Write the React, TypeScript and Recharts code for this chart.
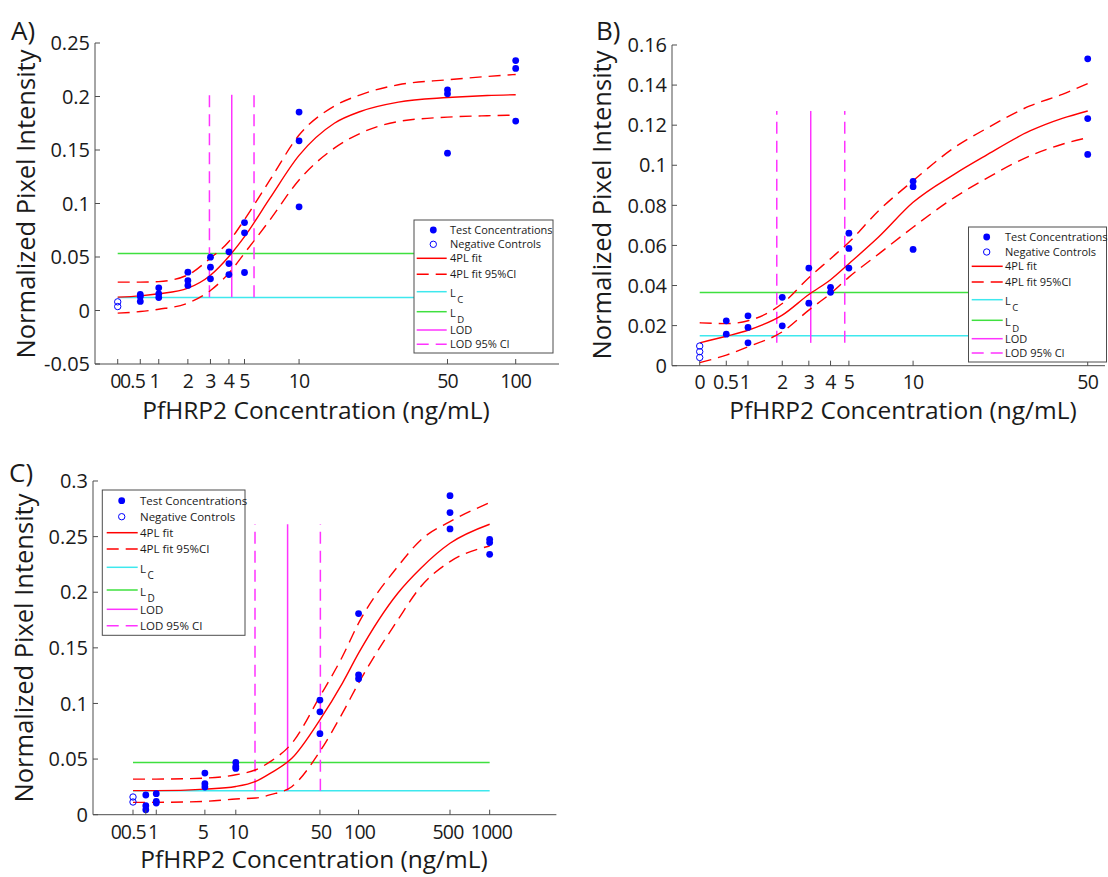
import React from 'react';
import { ComposedChart, Line, Scatter, XAxis, YAxis, ReferenceLine } from 'recharts';

// axis transform used by the original figure: log10(concentration + 2)
const tx = (x: number) => Math.log10(x + 2);

// ---------------- Panel A ----------------
const xTicksA = [0, 0.5, 1, 2, 3, 4, 5, 10, 50, 100];
const xTickLabelsA = ['0', '0.5', '1', '2', '3', '4', '5', '10', '50', '100'];
const yTicksA = [-0.05, 0, 0.05, 0.1, 0.15, 0.2, 0.25];
const yTickLabelsA = ['-0.05', '0', '0.05', '0.1', '0.15', '0.2', '0.25'];
const concA = [0.5, 1, 2, 3, 4, 5, 10, 50, 100];
const testA = [
  [0.015, 0.013, 0.0085],
  [0.0212, 0.0156, 0.0121],
  [0.0358, 0.028, 0.0234],
  [0.0498, 0.0405, 0.0296],
  [0.0548, 0.0439, 0.0336],
  [0.0822, 0.0726, 0.0355],
  [0.1854, 0.1586, 0.0969],
  [0.2062, 0.2025, 0.147],
  [0.2336, 0.2262, 0.177],
];
const negA = [0.0081, 0.0037];
const fitXA = [0, 0.5, 1, 2, 3, 4, 5, 7, 10, 15, 20, 30, 50, 75, 100];
const fitA = [0.0125, 0.0137, 0.0156, 0.0209, 0.033, 0.0505, 0.069, 0.105, 0.145, 0.175, 0.186, 0.1947, 0.199, 0.201, 0.2016];
const ciHiA = [0.0265, 0.0265, 0.027, 0.0333, 0.049, 0.0645, 0.085, 0.122, 0.164, 0.191, 0.2016, 0.211, 0.2156, 0.2187, 0.2206];
const ciLoA = [-0.0025, -0.001, 0.0012, 0.0069, 0.0187, 0.0349, 0.0536, 0.0847, 0.122, 0.1517, 0.1657, 0.1766, 0.1807, 0.182, 0.1826];
const levelsA = [0.0121, 0.0533]; // L_C, L_D
const lodA = [2.95, 4.17, 5.69]; // CI low, LOD, CI high

// ---------------- Panel B ----------------
const xTicksB = [0, 0.5, 1, 2, 3, 4, 5, 10, 50];
const xTickLabelsB = ['0', '0.5', '1', '2', '3', '4', '5', '10', '50'];
const yTicksB = [0, 0.02, 0.04, 0.06, 0.08, 0.1, 0.12, 0.14, 0.16];
const yTickLabelsB = ['0', '0.02', '0.04', '0.06', '0.08', '0.1', '0.12', '0.14', '0.16'];
const concB = [0.5, 1, 2, 3, 4, 5, 10, 50];
const testB = [
  [0.0224, 0.0157],
  [0.0249, 0.0191, 0.0114],
  [0.0341, 0.0199],
  [0.0487, 0.0312],
  [0.0391, 0.0366],
  [0.0661, 0.0585, 0.0487],
  [0.092, 0.0893, 0.058],
  [0.1531, 0.1233, 0.1054],
];
const negB = [0.0098, 0.007, 0.0041];
const fitXB = [0, 0.5, 1, 2, 3, 4, 5, 7, 10, 15, 20, 30, 40, 50];
const fitB = [0.0114, 0.0147, 0.0177, 0.0252, 0.0355, 0.0429, 0.0509, 0.0643, 0.0815, 0.0956, 0.1047, 0.1171, 0.1234, 0.1271];
const ciHiB = [0.0214, 0.021, 0.0224, 0.031, 0.0439, 0.0534, 0.0616, 0.0774, 0.0923, 0.1089, 0.118, 0.1296, 0.1354, 0.1408];
const ciLoB = [0.0015, 0.0053, 0.0094, 0.0169, 0.0277, 0.036, 0.0442, 0.0558, 0.0691, 0.084, 0.0931, 0.1047, 0.1105, 0.1138];
const levelsB = [0.0149, 0.0365];
const lodB = [1.82, 3.08, 4.76];

// ---------------- Panel C ----------------
const xTicksC = [0, 0.5, 1, 5, 10, 50, 100, 500, 1000];
const xTickLabelsC = ['0', '0.5', '1', '5', '10', '50', '100', '500', '1000'];
const yTicksC = [0, 0.05, 0.1, 0.15, 0.2, 0.25, 0.3];
const yTickLabelsC = ['0', '0.05', '0.1', '0.15', '0.2', '0.25', '0.3'];
const concC = [0.5, 1, 5, 10, 50, 100, 500, 1000];
const testC = [
  [0.0177, 0.0081, 0.0045],
  [0.0189, 0.012, 0.0105],
  [0.0374, 0.0278, 0.0249],
  [0.047, 0.0434, 0.0416],
  [0.103, 0.0925, 0.0728],
  [0.1808, 0.1257, 0.1222],
  [0.2868, 0.2716, 0.2569],
  [0.2476, 0.2446, 0.2341],
];
const negC = [0.0159, 0.0114];
const fitXC = [0, 1, 5, 10, 15, 20, 30, 50, 75, 100, 200, 300, 500, 1000];
const fitC = [0.0216, 0.0216, 0.023, 0.0254, 0.03, 0.0374, 0.0509, 0.0853, 0.1183, 0.1452, 0.1991, 0.2216, 0.244, 0.2611];
const ciHiC = [0.032, 0.032, 0.0329, 0.0359, 0.0404, 0.0479, 0.0644, 0.1063, 0.1422, 0.1722, 0.2231, 0.247, 0.2635, 0.2805];
const ciLoC = [0.0111, 0.0111, 0.012, 0.0141, 0.015, 0.018, 0.0254, 0.0569, 0.0913, 0.1183, 0.1751, 0.2051, 0.2275, 0.2416];
const levelsC = [0.0216, 0.047];
const lodC = [14.77, 27.6, 50.4];

const legendLabels = ['Test Concentrations', 'Negative Controls', '4PL fit', '4PL fit 95%CI', 'L', 'L', 'LOD', 'LOD 95% CI'];
const legendSubs = ['C', 'D'];

// ---------------- styling ----------------
const FONT = '"Open Sans", "Noto Sans", sans-serif';
const AX = '#4d4d4d';
const TXT = '#1a1a1a';
const BLUE = '#0000ff';
const RED = '#ff0000';
const CYAN = '#3ee8ee';
const GREEN = '#3fe03f';
const MAGENTA = '#ff33ff';
const DASH = '12 7';

// horizontal nudges of crowded x tick labels (pixels), as laid out in the reference
const nudgeA = [-2.2, -7.8, -4, 0, 0, 0, 0, 0, 0, 0];
const nudgeB = [0, -0.7, -3, 0, 0, 0, 0, 0, 0];
const nudgeC = [-17, -12.5, -3, -2, 2, 1, 1, -2, 1.7];

type Box = { x: number; y: number; w: number; h: number };

type PanelProps = {
  box: Box;
  tDomain: [number, number];
  yDomain: [number, number];
  xTicks: number[];
  xLabels: string[];
  nudge: number[];
  yTicks: number[];
  yLabels: string[];
  conc: number[];
  test: number[][];
  neg: number[];
  fitX: number[];
  fit: number[];
  ciHi: number[];
  ciLo: number[];
  levels: number[];
  lod: number[];
  xLabelOffset: number;
};

const ML = 100, MT = 26, MR = 12, MB = 80;

function findIdx(ticks: number[], v: number) {
  let best = 0;
  let d = Infinity;
  ticks.forEach((t, i) => {
    const dd = Math.abs(t - v);
    if (dd < d) { d = dd; best = i; }
  });
  return best;
}

function Panel(p: PanelProps) {
  const tt = p.xTicks.map(tx);
  const testPts = p.conc.flatMap((c, i) => p.test[i].map((y) => ({ t: tx(c), y })));
  const negPts = p.neg.map((y) => ({ t: tx(0), y }));
  const mk = (arr: number[]) => p.fitX.map((x, i) => ({ t: tx(x), y: arr[i] }));
  const xMax = p.fitX[p.fitX.length - 1];
  const vBottom = p.fit[0];
  const vTop = p.fit[p.fit.length - 1];

  const bottomTick = (props: any) => {
    const { x, y, payload } = props;
    const i = findIdx(tt, payload.value);
    return (
      <g>
        <line x1={x} x2={x} y1={y} y2={y - 5} stroke={AX} strokeWidth={1} />
        <text
          x={x + p.nudge[i]}
          y={y + p.xLabelOffset}
          textAnchor="middle"
          fontFamily={FONT}
          fontSize={19.5}
          letterSpacing={-0.8}
          fill={TXT}
        >
          {p.xLabels[i]}
        </text>
      </g>
    );
  };
  const topTick = (props: any) => {
    const { x, y } = props;
    return <line x1={x} x2={x} y1={y} y2={y + 5} stroke={AX} strokeWidth={1} />;
  };
  const leftTick = (props: any) => {
    const { x, y, payload } = props;
    const i = findIdx(p.yTicks, payload.value);
    return (
      <g>
        <line x1={x} x2={x + 5} y1={y} y2={y} stroke={AX} strokeWidth={1} />
        <text x={x - 5} y={y} dy="0.36em" textAnchor="end" fontFamily={FONT} fontSize={20} fill={TXT}>
          {p.yLabels[i]}
        </text>
      </g>
    );
  };
  const rightTick = (props: any) => {
    const { x, y } = props;
    return <line x1={x} x2={x - 5} y1={y} y2={y} stroke={AX} strokeWidth={1} />;
  };

  const filled = (s: any) => <circle cx={s.cx} cy={s.cy} r={3.4} fill={BLUE} />;
  const open = (s: any) => <circle cx={s.cx} cy={s.cy} r={3.2} fill="none" stroke={BLUE} strokeWidth={1} />;

  return (
    <div style={{ position: 'absolute', left: p.box.x - ML, top: p.box.y - MT }}>
      <ComposedChart
        width={p.box.w + ML + MR}
        height={p.box.h + MT + MB}
        margin={{ top: MT, right: MR, bottom: 0, left: 0 }}
      >
        <XAxis
          xAxisId={0}
          type="number"
          dataKey="t"
          domain={p.tDomain}
          allowDataOverflow
          ticks={tt}
          interval={0}
          height={MB}
          tickSize={0}
          tickMargin={0}
          tickLine={false}
          axisLine={{ stroke: AX, strokeWidth: 1 }}
          tick={bottomTick}
        />
        <XAxis
          xAxisId="top"
          orientation="top"
          type="number"
          dataKey="t"
          domain={p.tDomain}
          allowDataOverflow
          ticks={tt}
          interval={0}
          height={0}
          tickSize={0}
          tickMargin={0}
          tickLine={false}
          axisLine={{ stroke: AX, strokeWidth: 1 }}
          tick={topTick}
        />
        <YAxis
          yAxisId={0}
          type="number"
          dataKey="y"
          domain={p.yDomain}
          allowDataOverflow
          ticks={p.yTicks}
          interval={0}
          width={ML}
          tickSize={0}
          tickMargin={0}
          tickLine={false}
          axisLine={{ stroke: AX, strokeWidth: 1 }}
          tick={leftTick}
        />
        <YAxis
          yAxisId="right"
          orientation="right"
          type="number"
          dataKey="y"
          domain={p.yDomain}
          allowDataOverflow
          ticks={p.yTicks}
          interval={0}
          width={0}
          tickSize={0}
          tickMargin={0}
          tickLine={false}
          axisLine={{ stroke: AX, strokeWidth: 1 }}
          tick={rightTick}
        />
        <ReferenceLine segment={[{ x: tx(0), y: p.levels[0] }, { x: tx(xMax), y: p.levels[0] }]} stroke={CYAN} strokeWidth={1.5} />
        <ReferenceLine segment={[{ x: tx(0), y: p.levels[1] }, { x: tx(xMax), y: p.levels[1] }]} stroke={GREEN} strokeWidth={1.5} />
        <ReferenceLine segment={[{ x: tx(p.lod[1]), y: vBottom }, { x: tx(p.lod[1]), y: vTop }]} stroke={MAGENTA} strokeWidth={1.5} />
        <ReferenceLine segment={[{ x: tx(p.lod[0]), y: vBottom }, { x: tx(p.lod[0]), y: vTop }]} stroke={MAGENTA} strokeWidth={1.5} strokeDasharray={DASH} />
        <ReferenceLine segment={[{ x: tx(p.lod[2]), y: vBottom }, { x: tx(p.lod[2]), y: vTop }]} stroke={MAGENTA} strokeWidth={1.5} strokeDasharray={DASH} />
        <Line data={mk(p.fit)} dataKey="y" type="monotone" stroke={RED} strokeWidth={1.4} dot={false} isAnimationActive={false} />
        <Line data={mk(p.ciHi)} dataKey="y" type="monotone" stroke={RED} strokeWidth={1.4} strokeDasharray={DASH} dot={false} isAnimationActive={false} />
        <Line data={mk(p.ciLo)} dataKey="y" type="monotone" stroke={RED} strokeWidth={1.4} strokeDasharray={DASH} dot={false} isAnimationActive={false} />
        <Scatter data={testPts} dataKey="y" shape={filled} isAnimationActive={false} />
        <Scatter data={negPts} dataKey="y" shape={open} isAnimationActive={false} />
      </ComposedChart>
    </div>
  );
}

type LegendLayout = { x: number; y: number; w: number; h: number; rows: number[]; l0: number; l1: number; tx: number; mx: number; fs: number };

function LegendBox({ L }: { L: LegendLayout }) {
  const ry = (i: number) => L.y + L.rows[i];
  const lx0 = L.x + L.l0;
  const lx1 = L.x + L.l1;
  const tX = L.x + L.tx;
  const lineRow = (i: number, color: string, dash?: string) => (
    <line x1={lx0} x2={lx1} y1={ry(i)} y2={ry(i)} stroke={color} strokeWidth={1.5} strokeDasharray={dash} />
  );
  return (
    <g fontFamily={FONT} fontSize={L.fs} fill={TXT}>
      <rect x={L.x} y={L.y} width={L.w} height={L.h} fill="#ffffff" stroke={AX} strokeWidth={1} />
      <circle cx={L.x + L.mx} cy={ry(0)} r={3.4} fill={BLUE} />
      <text x={tX} y={ry(0)} dy="0.36em">{legendLabels[0]}</text>
      <circle cx={L.x + L.mx} cy={ry(1)} r={3.2} fill="none" stroke={BLUE} strokeWidth={1} />
      <text x={tX} y={ry(1)} dy="0.36em">{legendLabels[1]}</text>
      {lineRow(2, RED)}
      <text x={tX} y={ry(2)} dy="0.36em">{legendLabels[2]}</text>
      {lineRow(3, RED, DASH)}
      <text x={tX} y={ry(3)} dy="0.36em">{legendLabels[3]}</text>
      {lineRow(4, CYAN)}
      <text x={tX} y={ry(4) + 5.5}>
        {legendLabels[4]}
        <tspan dx={1.5} dy={6} fontSize={L.fs - 1.5}>{legendSubs[0]}</tspan>
      </text>
      {lineRow(5, GREEN)}
      <text x={tX} y={ry(5) + 5.5}>
        {legendLabels[5]}
        <tspan dx={1.5} dy={6} fontSize={L.fs - 1.5}>{legendSubs[1]}</tspan>
      </text>
      {lineRow(6, MAGENTA)}
      <text x={tX} y={ry(6)} dy="0.4em">{legendLabels[6]}</text>
      {lineRow(7, MAGENTA, DASH)}
      <text x={tX} y={ry(7)} dy="0.36em">{legendLabels[7]}</text>
    </g>
  );
}

const legendA: LegendLayout = { x: 414, y: 220, w: 139, h: 133, rows: [10, 24.3, 38.3, 54.3, 71.7, 91.7, 110, 124.3], l0: 2.7, l1: 32.7, tx: 36, mx: 19.3, fs: 11 };
const legendB: LegendLayout = { x: 968.5, y: 227, w: 138, h: 135, rows: [10, 25, 39.3, 55, 72.7, 93.3, 111.7, 126], l0: 3.2, l1: 34.2, tx: 36.5, mx: 18.2, fs: 11 };
const legendC: LegendLayout = { x: 102.3, y: 490, w: 142.7, h: 145.3, rows: [10.7, 26.7, 42.7, 59, 77.3, 100, 119.3, 135.7], l0: 4.4, l1: 35.4, tx: 37.7, mx: 19.4, fs: 11.5 };

const boxA: Box = { x: 95, y: 43.2, w: 464, h: 321 };
const boxB: Box = { x: 672, y: 45, w: 433, h: 320.7 };
const boxC: Box = { x: 93.3, y: 481.3, w: 463.4, h: 333.7 };

const Y_LABEL = 'Normalized Pixel Intensity';
const X_LABEL = 'PfHRP2 Concentration (ng/mL)';

export default function App() {
  return (
    <div style={{ position: 'absolute', left: 0, top: 0, width: 1108, height: 877, background: '#ffffff', overflow: 'hidden' }}>
      <Panel
        box={boxA}
        tDomain={[0.2036, 2.1944]}
        yDomain={[-0.05, 0.25]}
        xTicks={xTicksA}
        xLabels={xTickLabelsA}
        nudge={nudgeA}
        yTicks={yTicksA}
        yLabels={yTickLabelsA}
        conc={concA}
        test={testA}
        neg={negA}
        fitX={fitXA}
        fit={fitA}
        ciHi={ciHiA}
        ciLo={ciLoA}
        levels={levelsA}
        lod={lodA}
        xLabelOffset={24}
      />
      <Panel
        box={boxB}
        tDomain={[0.2, 1.779]}
        yDomain={[0, 0.16]}
        xTicks={xTicksB}
        xLabels={xTickLabelsB}
        nudge={nudgeB}
        yTicks={yTicksB}
        yLabels={yTickLabelsB}
        conc={concB}
        test={testB}
        neg={negB}
        fitX={fitXB}
        fit={fitB}
        ciHi={ciHiB}
        ciLo={ciLoB}
        levels={levelsB}
        lod={lodB}
        xLabelOffset={23}
      />
      <Panel
        box={boxC}
        tDomain={[-0.0018, 3.506]}
        yDomain={[0, 0.3]}
        xTicks={xTicksC}
        xLabels={xTickLabelsC}
        nudge={nudgeC}
        yTicks={yTicksC}
        yLabels={yTickLabelsC}
        conc={concC}
        test={testC}
        neg={negC}
        fitX={fitXC}
        fit={fitC}
        ciHi={ciHiC}
        ciLo={ciLoC}
        levels={levelsC}
        lod={lodC}
        xLabelOffset={24}
      />
      <svg width={1108} height={877} style={{ position: 'absolute', left: 0, top: 0, pointerEvents: 'none' }}>
        <LegendBox L={legendA} />
        <LegendBox L={legendB} />
        <LegendBox L={legendC} />
        <g fontFamily={FONT} fill={TXT}>
          <text x={11} y={40} fontSize={26}>A)</text>
          <text x={596} y={40} fontSize={26}>B)</text>
          <text x={9} y={482} fontSize={26}>C)</text>
          <text transform="translate(35, 204) rotate(-90)" textAnchor="middle" fontSize={25.5}>{Y_LABEL}</text>
          <text transform="translate(611, 205) rotate(-90)" textAnchor="middle" fontSize={25.5}>{Y_LABEL}</text>
          <text transform="translate(33, 648) rotate(-90)" textAnchor="middle" fontSize={25.5}>{Y_LABEL}</text>
          <text x={316} y={419} textAnchor="middle" fontSize={24.5}>{X_LABEL}</text>
          <text x={903} y={419} textAnchor="middle" fontSize={24.5}>{X_LABEL}</text>
          <text x={314} y={868} textAnchor="middle" fontSize={24.5}>{X_LABEL}</text>
        </g>
      </svg>
    </div>
  );
}
